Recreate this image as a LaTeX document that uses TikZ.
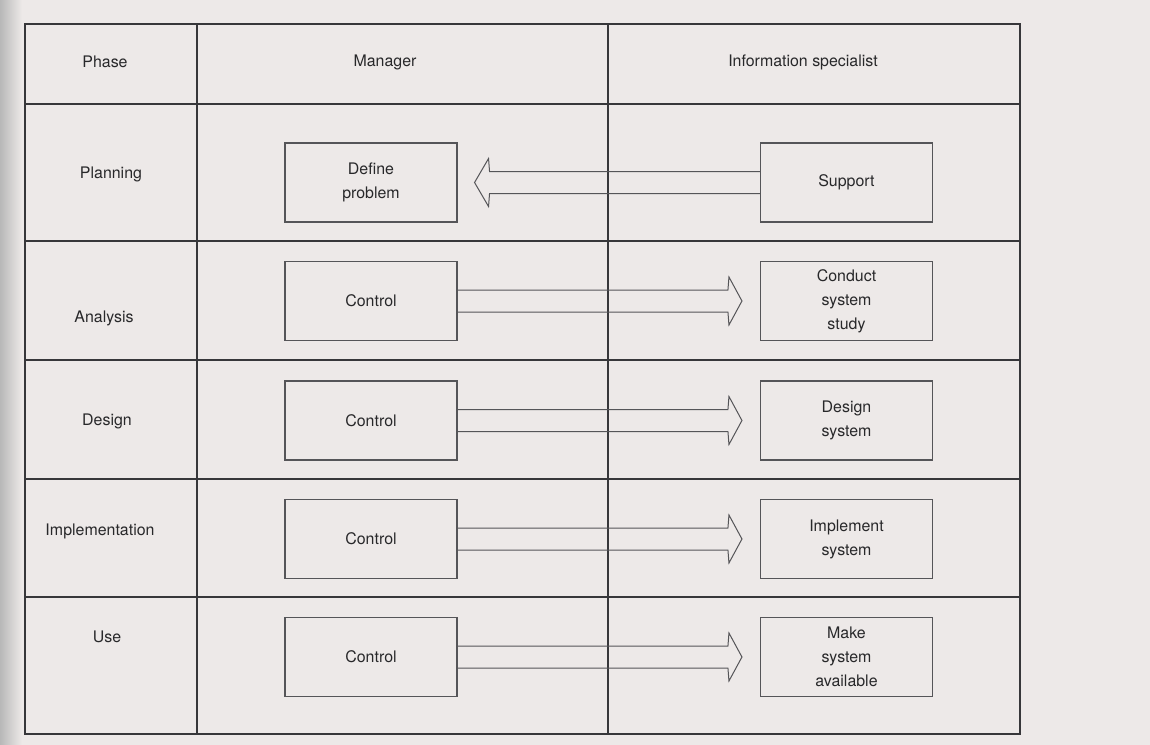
\documentclass[tikz,border=0pt]{standalone}
\usepackage{fontspec}
\setmainfont{TeX Gyre Heros}
\usetikzlibrary{calc}
\definecolor{paper}{RGB}{237,233,232}
\definecolor{ink}{RGB}{55,55,58}
\definecolor{txt}{RGB}{40,40,42}
\newcommand\flowright[2]{%
  \draw[flow] ($(#1.east)+(0,-11)$) -- ($(#2.west)+(-32,-11)$) -- ($(#2.west)+(-31,-24)$)
    -- ($(#2.west)+(-18,0)$) -- ($(#2.west)+(-31,24)$) -- ($(#2.west)+(-32,11)$) -- ($(#1.east)+(0,11)$);}
\newcommand\flowleft[2]{%
  \draw[flow] ($(#1.west)+(0,-11)$) -- ($(#2.east)+(32,-11)$) -- ($(#2.east)+(31,-24)$)
    -- ($(#2.east)+(17,0)$) -- ($(#2.east)+(31,24)$) -- ($(#2.east)+(32,11)$) -- ($(#1.west)+(0,11)$);}
\begin{document}
\begin{tikzpicture}[x=1bp,y=-1bp,
  grid/.style={draw=ink,line width=1.6bp},
  actbox/.style={draw=ink!85,line width=1.1bp,minimum width=172bp,minimum height=79bp,
    inner sep=0pt,align=center,font=\fontsize{16}{24}\selectfont,text=txt},
  lbl/.style={font=\fontsize{16}{19}\selectfont,text=txt,inner sep=0pt},
  flow/.style={draw=ink!85,line width=1bp,line join=miter}]
\fill[paper] (0,0) rectangle (1150,745);
\useasboundingbox (0,0) rectangle (1150,745);
\shade[left color=black!28, right color=paper] (0,0) rectangle (22,745);
% table
\draw[grid] (25,24) rectangle (1020,734);
\draw[grid] (197,24) -- (197,734);
\draw[grid] (608,24) -- (608,734);
\foreach \yy in {104,241,360,479,597} \draw[grid] (25,\yy) -- (1020,\yy);
% headers and phases
\node[lbl] (hphase) at (105,62) {Phase};
\node[lbl] (hman) at (385,62) {Manager};
\node[lbl] (hinfo) at (803,62) {Information specialist};
\node[lbl] (pplan) at (111,174) {Planning};
\node[lbl] (pana) at (104,318) {Analysis};
\node[lbl] (pdes) at (107,421) {Design};
\node[lbl] (pimp) at (100,531) {Implementation};
\node[lbl] (puse) at (107,637) {Use};
% boxes
\node[actbox] (def) at (371,182.5) {Define\\problem};
\node[actbox] (sup) at (846.5,182.5) {Support};
\node[actbox] (ctra) at (371,301) {Control};
\node[actbox] (css) at (846.5,301) {Conduct\\system\\study};
\node[actbox] (ctrd) at (371,420.5) {Control};
\node[actbox] (dsys) at (846.5,420.5) {Design\\system};
\node[actbox] (ctri) at (371,539) {Control};
\node[actbox] (isys) at (846.5,539) {Implement\\system};
\node[actbox] (ctru) at (371,657) {Control};
\node[actbox] (msa) at (846.5,657) {Make\\system\\available};
% arrows
\flowleft{sup}{def}
\flowright{ctra}{css}
\flowright{ctrd}{dsys}
\flowright{ctri}{isys}
\flowright{ctru}{msa}
\end{tikzpicture}
\end{document}
